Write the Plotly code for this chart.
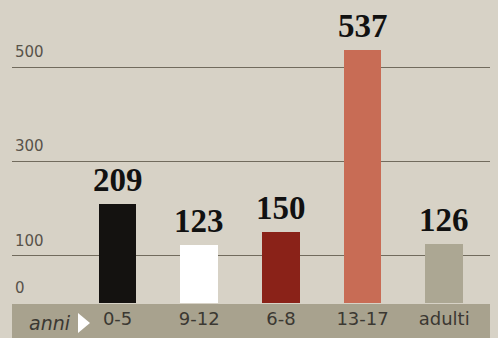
import plotly.graph_objects as go

categories = ["0-5", "9-12", "6-8", "13-17", "adulti"]
values = [209, 123, 150, 537, 126]
bar_colors = ["#141210", "#ffffff", "#8a2218", "#c86c55", "#aca793"]
y_ticks = [0, 100, 300, 500]
axis_label = "anni"

W, H = 498, 338
BAND_TOP = 303  # pixel where plot area ends and label band starts

fig = go.Figure()
fig.add_trace(go.Bar(
    x=categories, y=values,
    marker=dict(color=bar_colors, line=dict(width=0)),
    width=0.46,
    hoverinfo="skip",
))

# value labels above bars
for c, v in zip(categories, values):
    fig.add_annotation(
        x=c, y=v, text=str(v), showarrow=False,
        yanchor="bottom", yshift=4,
        font=dict(family="Liberation Serif", size=33, color="#111111", weight="bold"),
    )

# bottom band
fig.add_shape(type="rect", xref="paper", yref="paper",
              x0=12 / W, x1=490 / W, y0=0, y1=(H - BAND_TOP - 1) / H,
              fillcolor="#a8a28e", line=dict(width=0), layer="below")
# "anni" + triangle
fig.add_annotation(xref="paper", yref="paper", x=27 / W, y=(H - 323) / H,
                   xanchor="left", yanchor="middle", text=axis_label, showarrow=False,
                   font=dict(family="DejaVu Sans", size=19, color="#3b3832", style="italic"))
fig.add_shape(type="path", xref="paper", yref="paper",
              path=f"M {78/W} {(H-313)/H} L {78/W} {(H-333)/H} L {90/W} {(H-323)/H} Z",
              fillcolor="#ffffff", line=dict(width=0))

fig.update_layout(
    width=W, height=H,
    margin=dict(l=0, r=0, t=0, b=0),
    paper_bgcolor="#d7d2c6",
    plot_bgcolor="rgba(0,0,0,0)",
    showlegend=False,
    bargap=0,
    xaxis=dict(
        domain=[12 / W, 490 / W],
        range=[-1.293, 4.561],
        showgrid=False, zeroline=False, showline=False,
        ticks="", tickfont=dict(family="DejaVu Sans", size=18, color="#3b3832"),
        ticklabelstandoff=3,
    ),
    yaxis=dict(
        domain=[(H - BAND_TOP) / H, 1],
        range=[0, 642],
        tickvals=y_ticks,
        ticktext=[str(t) for t in y_ticks],
        ticklabelposition="inside top",
        ticklabelshift=-5,
        tickfont=dict(family="DejaVu Sans", size=15, color="#57534a"),
        showgrid=True, gridcolor="#716b5d", gridwidth=1,
        zeroline=False, showline=False, ticks="",
    ),
)

fig.write_html("out.html")
